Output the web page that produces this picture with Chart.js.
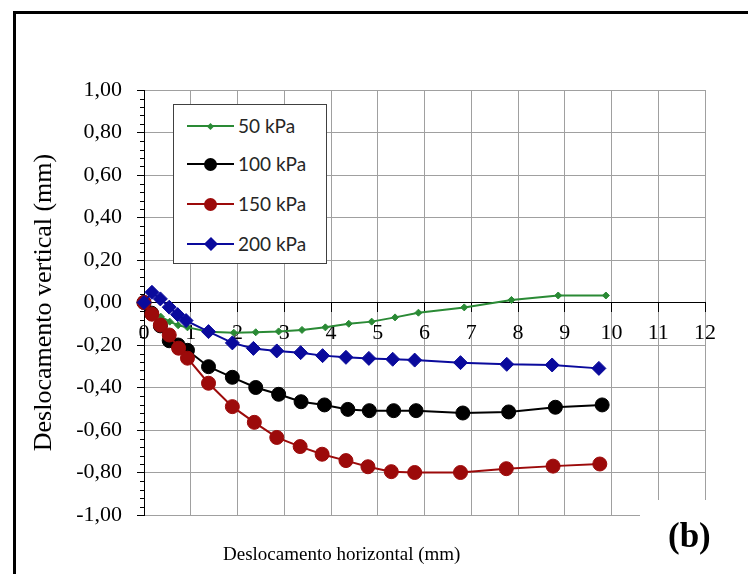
<!DOCTYPE html>
<html>
<head>
<meta charset="utf-8">
<script src="https://cdn.jsdelivr.net/npm/chart.js@4.4.1/dist/chart.umd.min.js"></script>
<style>
  body { margin: 0; background: #fff; }
  #wrap { position: relative; width: 748px; height: 574px; overflow: hidden; }
  #frame { position: absolute; left: 13px; top: 11px; width: 800px; height: 700px;
           border-left: 3px solid #000; border-top: 3px solid #000; pointer-events: none; }
  #legend { position: absolute; left: 173px; top: 104px; width: 152px; height: 158px;
            border: 1px solid #404040; background: #fff;
            font-family: Lato, "Open Sans", sans-serif; font-size: 19px; color: #262626; }
  .item { position: absolute; left: 0; width: 100%; height: 20px; }
  .line { position: absolute; left: 13px; width: 47px; height: 2px; top: 9px; }
  .mk { position: absolute; }
  .txt { position: absolute; left: 64px; top: 0; line-height: 20px; white-space: nowrap; }
  #xtitle { position: absolute; left: 223px; top: 543px; font-family: "Liberation Serif", serif;
            font-size: 19px; line-height: 22px; color: #000; white-space: nowrap; }
  #tag { position: absolute; left: 640px; top: 500px; width: 108px; height: 74px; background: #fff; }
  #tag span { position: absolute; left: 28px; top: 16px; font-family: "Liberation Serif", serif;
              font-weight: bold; font-size: 35px; line-height: 40px; color: #000; }
</style>
</head>
<body>
<div id="wrap">
  <canvas id="chart" width="748" height="574"></canvas>
  <div id="frame"></div>
  <div id="legend"></div>
  <div id="xtitle">Deslocamento horizontal (mm)</div>
  <div id="tag"><span>(b)</span></div>
</div>
<script>
// series names
const seriesLabels = ["50 kPa", "100 kPa", "150 kPa", "200 kPa"];

// 50 kPa
const x50 = [0, 0.17, 0.36, 0.55, 0.73, 0.93, 1.39, 1.92, 2.39, 2.88, 3.38, 3.88, 4.38, 4.87, 5.37, 5.87, 6.85, 7.86, 8.86, 9.88];
const y50 = [0, -0.04, -0.067, -0.09, -0.107, -0.117, -0.138, -0.142, -0.14, -0.136, -0.129, -0.117, -0.1, -0.09, -0.07, -0.048, -0.023, 0.012, 0.033, 0.033];

// 100 kPa
const x100 = [0, 0.16, 0.35, 0.54, 0.73, 0.93, 1.38, 1.89, 2.39, 2.88, 3.36, 3.86, 4.36, 4.82, 5.34, 5.82, 6.82, 7.8, 8.8, 9.8];
const y100 = [0, -0.05, -0.11, -0.18, -0.2, -0.225, -0.302, -0.352, -0.4, -0.432, -0.467, -0.482, -0.503, -0.509, -0.509, -0.509, -0.52, -0.515, -0.493, -0.482];

// 150 kPa
const x150 = [0, 0.17, 0.35, 0.54, 0.74, 0.93, 1.38, 1.89, 2.36, 2.84, 3.34, 3.81, 4.32, 4.79, 5.29, 5.79, 6.77, 7.75, 8.75, 9.75];
const y150 = [0, -0.055, -0.106, -0.153, -0.215, -0.262, -0.38, -0.49, -0.564, -0.635, -0.678, -0.714, -0.744, -0.773, -0.796, -0.8, -0.8, -0.782, -0.77, -0.76];

// 200 kPa
const x200 = [0, 0.17, 0.35, 0.54, 0.72, 0.9, 1.38, 1.89, 2.34, 2.84, 3.35, 3.82, 4.32, 4.81, 5.32, 5.79, 6.77, 7.76, 8.73, 9.73];
const y200 = [0, 0.048, 0.017, -0.022, -0.057, -0.085, -0.137, -0.19, -0.216, -0.228, -0.236, -0.25, -0.258, -0.263, -0.267, -0.271, -0.283, -0.291, -0.294, -0.31];

// axis ranges
const xMin = 0, xMax = 12, xStep = 1;
const yMin = -1, yMax = 1, yStep = 0.2, yMinorStep = 0.04;

const xData = [x50, x100, x150, x200];
const yData = [y50, y100, y150, y200];

const styles = [
  { color: "#2a8a35", shape: "rectRot", r: 3.5, order: 3 },
  { color: "#000000", shape: "circle", r: 7, order: 2 },
  { color: "#9c0a0a", shape: "circle", r: 7, order: 1 },
  { color: "#0a0a9c", shape: "rectRot", r: 7, order: 0 }
];

const datasets = seriesLabels.map((lab, i) => ({
  label: lab,
  data: xData[i].map((x, j) => ({ x: x, y: yData[i][j] })),
  showLine: true,
  borderColor: styles[i].color,
  backgroundColor: styles[i].color,
  borderWidth: 2,
  pointStyle: styles[i].shape,
  pointRadius: styles[i].r,
  pointBorderWidth: 1,
  order: styles[i].order,
  clip: false
}));

// small ticks between the labelled ones on the y axis
const minorTicks = {
  id: "minorTicks",
  afterDraw(chart) {
    const s = chart.scales.y, ctx = chart.ctx;
    ctx.save();
    ctx.strokeStyle = "#000";
    ctx.lineWidth = 1;
    const n = Math.round((yMax - yMin) / yMinorStep);
    for (let k = 0; k <= n; k++) {
      if (k % 5 === 0) continue;
      const py = Math.round(s.getPixelForValue(yMin + k * yMinorStep)) + 0.5;
      ctx.beginPath();
      ctx.moveTo(s.right - 4, py);
      ctx.lineTo(s.right, py);
      ctx.stroke();
    }
    ctx.restore();
  }
};

Chart.defaults.font.family = "'Liberation Serif', serif";
Chart.defaults.color = "#000";

new Chart("chart", {
  type: "scatter",
  data: { datasets: datasets },
  options: {
    responsive: false,
    animation: false,
    layout: { padding: { left: 0, top: 90, right: 43, bottom: 59 } },
    plugins: { legend: { display: false }, tooltip: { enabled: false } },
    scales: {
      x: {
        type: "linear",
        position: { y: 0 },
        min: xMin, max: xMax,
        ticks: { stepSize: xStep, font: { size: 22 }, padding: 9, color: "#000" },
        grid: { color: "#a0a0a0", tickColor: "#000", tickLength: 9 },
        border: { color: "#000", width: 1 }
      },
      y: {
        type: "linear",
        position: "left",
        min: yMin, max: yMax,
        afterFit: s => { s.width = 144; },
        ticks: {
          stepSize: yStep, font: { size: 22 }, padding: 15, color: "#000",
          callback: v => (Math.abs(v) < 1e-9 ? 0 : v).toFixed(2).replace(".", ",")
        },
        grid: { color: "#a0a0a0", tickColor: "#000", tickLength: 7 },
        border: { color: "#000", width: 1 },
        title: {
          display: true, text: "Deslocamento vertical (mm)",
          font: { size: 26 }, color: "#000", padding: { top: 29, bottom: 0 }
        }
      }
    }
  },
  plugins: [minorTicks]
});

// legend box built from the series names and styles
const legend = document.getElementById("legend");
const rowCenters = [21, 59, 99, 139];
seriesLabels.forEach((lab, i) => {
  const st = styles[i];
  const item = document.createElement("div");
  item.className = "item";
  item.style.top = (rowCenters[i] - 10) + "px";
  const line = document.createElement("div");
  line.className = "line";
  line.style.background = st.color;
  item.appendChild(line);
  const mk = document.createElement("div");
  mk.className = "mk";
  mk.style.background = st.color;
  if (st.shape === "circle") {
    const d = st.r * 2 - 1;
    mk.style.width = d + "px"; mk.style.height = d + "px";
    mk.style.borderRadius = "50%";
    mk.style.left = (36.5 - d / 2) + "px"; mk.style.top = (10 - d / 2) + "px";
  } else {
    const d = st.r * 1.42;
    mk.style.width = d + "px"; mk.style.height = d + "px";
    mk.style.transform = "rotate(45deg)";
    mk.style.left = (36.5 - d / 2) + "px"; mk.style.top = (10 - d / 2) + "px";
  }
  item.appendChild(mk);
  const txt = document.createElement("div");
  txt.className = "txt";
  txt.textContent = lab;
  item.appendChild(txt);
  legend.appendChild(item);
});
</script>
</body>
</html>
